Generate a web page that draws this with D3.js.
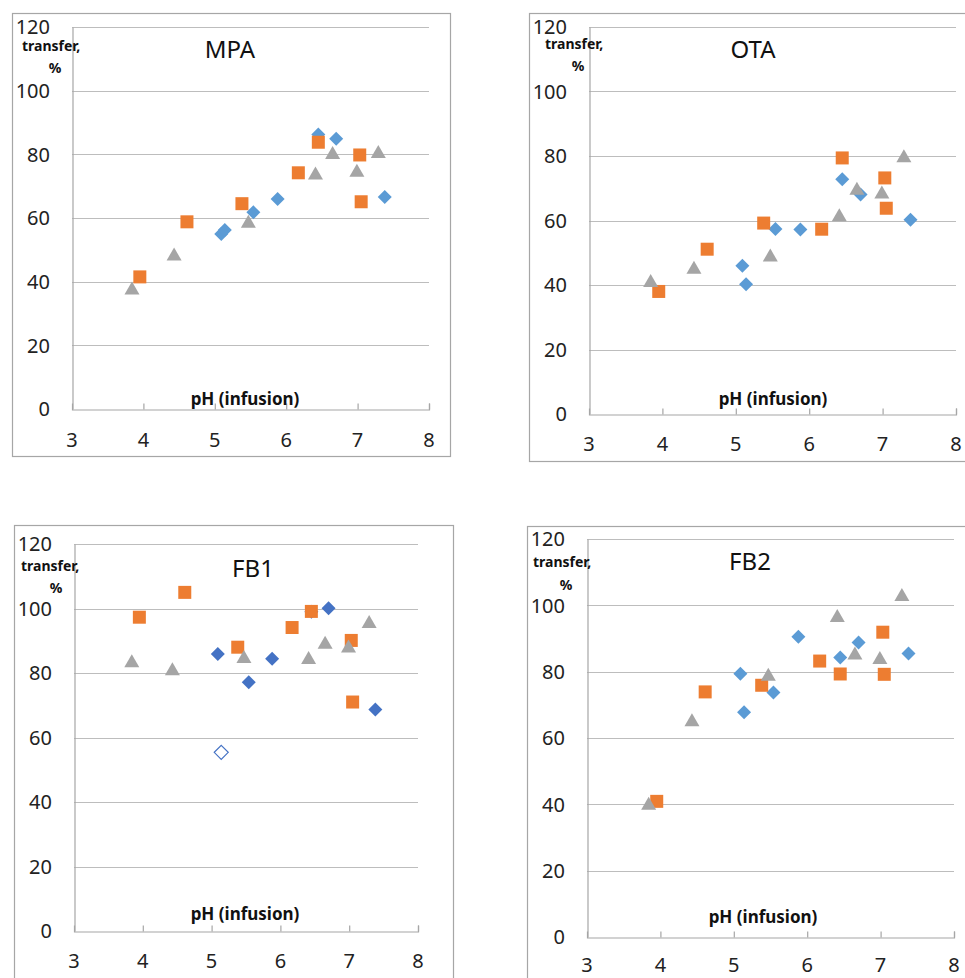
<!DOCTYPE html>
<html>
<head>
<meta charset="utf-8">
<script src="https://cdn.jsdelivr.net/npm/d3@7"></script>
<style>
  body { margin: 0; background: #fff; }
  svg { display: block; font-family: "Noto Sans", "Open Sans", sans-serif; }
</style>
</head>
<body>
<svg id="chart" width="965" height="978"></svg>
<script>
// pH of the infusions, one array per sample group
var phBlue = [5.09, 5.14, 5.54, 5.88, 6.45, 6.70, 7.38];
var phOrange = [3.95, 4.61, 5.38, 6.17, 6.45, 7.03, 7.05];
var phGray = [3.84, 4.43, 5.47, 6.41, 6.65, 6.99, 7.29];

// transfer, %
var mpaBlue = [55.0, 56.2, 61.8, 66.0, 86.2, 84.9, 66.6];
var mpaOrange = [41.5, 58.8, 64.5, 74.2, 83.8, 79.8, 65.1];
var mpaGray = [38.0, 48.7, 59.0, 74.1, 80.6, 75.0, 80.9];

var otaBlue = [46.0, 40.2, 57.4, 57.2, 72.8, 68.1, 60.2];
var otaOrange = [38.0, 51.1, 59.2, 57.3, 79.4, 73.2, 63.8];
var otaGray = [41.4, 45.5, 49.3, 61.8, 70.0, 68.8, 80.1];

var fb1Blue = [85.9, 55.4, 77.1, 84.4, 99.0, 100.1, 68.7];
var fb1Orange = [97.3, 105.0, 88.0, 94.1, 99.1, 90.1, 71.0];
var fb1Gray = [83.8, 81.3, 85.1, 84.8, 89.5, 88.4, 96.0];
var fb1Hollow = [1]; // index of the open (outlier) point

var fb2Blue = [79.4, 67.8, 73.7, 90.5, 84.3, 88.8, 85.5];
var fb2Orange = [40.9, 73.9, 75.9, 83.2, 79.3, 91.9, 79.2];
var fb2Gray = [40.3, 65.5, 79.2, 96.9, 85.6, 84.3, 103.3];

var xTicks = [3, 4, 5, 6, 7, 8];
var yTicks = [0, 20, 40, 60, 80, 100, 120];
var titles = ["MPA", "OTA", "FB1", "FB2"];

var cBlue = "#5b9bd5", cDarkBlue = "#4472c4", cOrange = "#ed7d31", cGray = "#a5a5a5";

// layout of the four panels
var panels = [
  { title: titles[0], blue: mpaBlue, orange: mpaOrange, gray: mpaGray, blueColor: cBlue,
    box: [12, 13, 450, 456], x0: 72, x1: 429, y0: 409, y1: 27, xlabOff: 31,
    titlePos: [230, 49], trPos: [22, 46], pctPos: [55, 68], phPos: [245, 399] },
  { title: titles[1], blue: otaBlue, orange: otaOrange, gray: otaGray, blueColor: cBlue,
    box: [529, 13, 975, 461], x0: 589, x1: 956, y0: 414, y1: 27, xlabOff: 30,
    titlePos: [753, 49], trPos: [545, 44], pctPos: [578, 66], phPos: [773, 399] },
  { title: titles[2], blue: fb1Blue, orange: fb1Orange, gray: fb1Gray, blueColor: cDarkBlue, hollow: fb1Hollow,
    box: [14, 525, 453, 990], x0: 74, x1: 418, y0: 931, y1: 544, xlabOff: 30,
    titlePos: [253, 568], trPos: [21, 566], pctPos: [56, 588], phPos: [245, 914] },
  { title: titles[3], blue: fb2Blue, orange: fb2Orange, gray: fb2Gray, blueColor: cBlue,
    box: [527, 526, 975, 990], x0: 587, x1: 954, y0: 937, y1: 539, xlabOff: 28,
    titlePos: [750, 561], trPos: [533, 562], pctPos: [566, 585], phPos: [763, 917] }
];

var svg = d3.select("#chart");

function diamond(r) { return "M0," + (-r) + "L" + r + ",0L0," + r + "L" + (-r) + ",0Z"; }
function square(s) { var h = s / 2; return "M" + (-h) + "," + (-h) + "h" + s + "v" + s + "h" + (-s) + "Z"; }
function triangle(w, h) { return "M0," + (-h / 2) + "L" + (w / 2) + "," + (h / 2) + "L" + (-w / 2) + "," + (h / 2) + "Z"; }

panels.forEach(function (p) {
  var g = svg.append("g");
  var x = d3.scaleLinear().domain([3, 8]).range([p.x0, p.x1]);
  var y = d3.scaleLinear().domain([0, 120]).range([p.y0, p.y1]);

  // outer frame
  g.append("rect")
    .attr("x", p.box[0] + 0.5).attr("y", p.box[1] + 0.5)
    .attr("width", p.box[2] - p.box[0]).attr("height", p.box[3] - p.box[1])
    .attr("fill", "#fff").attr("stroke", "#a6a6a6").attr("stroke-width", 1.2);

  // gridlines
  g.selectAll(".grid").data(yTicks.slice(1)).enter().append("line")
    .attr("x1", p.x0).attr("x2", p.x1)
    .attr("y1", function (d) { return Math.round(y(d)) + 0.5; })
    .attr("y2", function (d) { return Math.round(y(d)) + 0.5; })
    .attr("stroke", "#bdbdbd").attr("stroke-width", 1.2);

  // x axis with short inward ticks
  var xAxis = d3.axisBottom(x).tickValues(xTicks).tickSize(-6).tickFormat("");
  var xa = g.append("g").attr("transform", "translate(0," + (Math.round(p.y0) + 0.5) + ")").call(xAxis);
  xa.select(".domain").attr("stroke", "#a6a6a6").attr("stroke-width", 1.2);
  xa.selectAll(".tick line").attr("stroke", "#a6a6a6").attr("stroke-width", 1.2)
    .filter(function (d) { return d === 3; }).remove();

  // y axis line
  var ya = g.append("g").attr("transform", "translate(" + (Math.round(p.x0) + 0.5) + ",0)")
    .call(d3.axisLeft(y).tickValues(yTicks).tickSize(0).tickFormat(""));
  ya.select(".domain").attr("stroke", "#a6a6a6").attr("stroke-width", 1.2);

  // tick labels
  g.selectAll(".ylab").data(yTicks).enter().append("text")
    .attr("x", p.x0 - 22).attr("y", function (d) { return y(d); })
    .attr("dy", "0.36em").attr("text-anchor", "end")
    .attr("font-size", 20).attr("fill", "#222")
    .text(function (d) { return d; });
  g.selectAll(".xlab").data(xTicks).enter().append("text")
    .attr("x", function (d) { return x(d); }).attr("y", p.y0 + p.xlabOff)
    .attr("dy", "0.36em").attr("text-anchor", "middle")
    .attr("font-size", 20).attr("fill", "#222")
    .text(function (d) { return d; });

  // titles
  g.append("text").attr("x", p.titlePos[0]).attr("y", p.titlePos[1]).attr("dy", "0.36em")
    .attr("text-anchor", "middle").attr("font-size", 24).attr("fill", "#111").text(p.title);
  g.append("text").attr("x", p.trPos[0]).attr("y", p.trPos[1]).attr("dy", "0.36em")
    .attr("font-size", 14).attr("font-weight", "bold").attr("fill", "#111").text("transfer,");
  g.append("text").attr("x", p.pctPos[0]).attr("y", p.pctPos[1]).attr("dy", "0.36em")
    .attr("text-anchor", "middle").attr("font-size", 14).attr("font-weight", "bold").attr("fill", "#111").text("%");
  g.append("text").attr("x", p.phPos[0]).attr("y", p.phPos[1]).attr("dy", "0.36em")
    .attr("text-anchor", "middle").attr("font-size", 17).attr("font-weight", "bold").attr("fill", "#111")
    .text("pH (infusion)");

  var hollow = p.hollow || [];

  // blue diamonds
  g.selectAll(".blue").data(p.blue).enter().append("path")
    .attr("d", diamond(7))
    .attr("transform", function (d, i) { return "translate(" + x(phBlue[i]) + "," + y(d) + ")"; })
    .attr("fill", function (d, i) { return hollow.indexOf(i) >= 0 ? "#fff" : p.blueColor; })
    .attr("stroke", function (d, i) { return hollow.indexOf(i) >= 0 ? p.blueColor : "none"; })
    .attr("stroke-width", 1.2);

  // orange squares
  g.selectAll(".orange").data(p.orange).enter().append("path")
    .attr("d", square(13))
    .attr("transform", function (d, i) { return "translate(" + x(phOrange[i]) + "," + y(d) + ")"; })
    .attr("fill", cOrange);

  // gray triangles
  g.selectAll(".gray").data(p.gray).enter().append("path")
    .attr("d", triangle(15, 13))
    .attr("transform", function (d, i) { return "translate(" + x(phGray[i]) + "," + y(d) + ")"; })
    .attr("fill", cGray);
});
</script>
</body>
</html>
